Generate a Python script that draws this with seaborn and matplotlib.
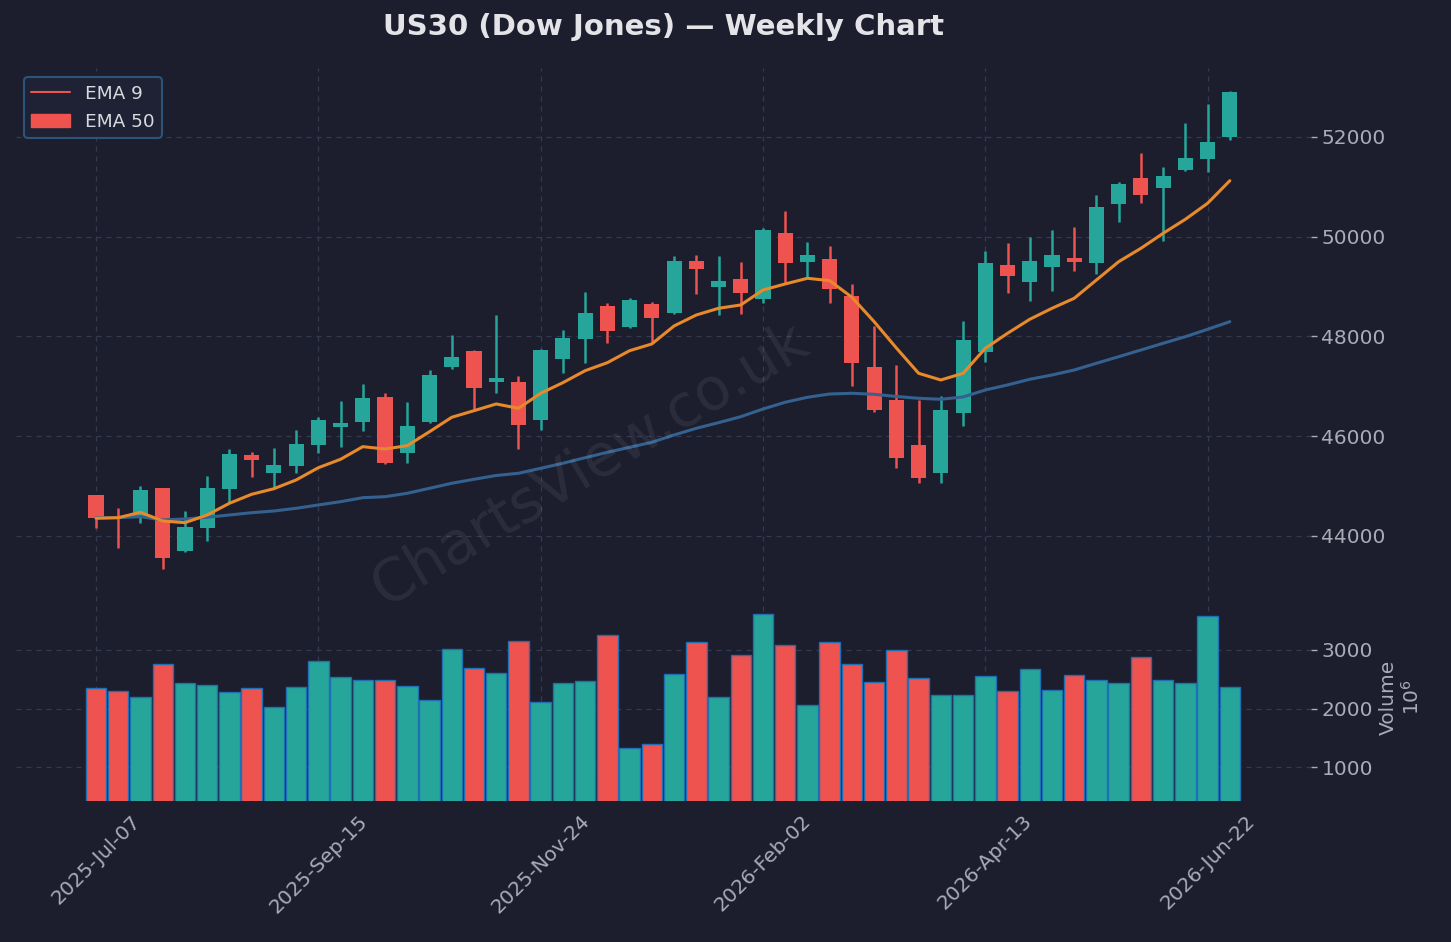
import matplotlib
matplotlib.use("Agg")
import matplotlib.pyplot as plt
from matplotlib.lines import Line2D
from matplotlib.patches import Patch
import numpy as np
import pandas as pd
import seaborn as sns

# ---------------- data ----------------
opens = [44822, 44380, 44400, 44962, 43699, 44160, 44942, 45624, 45263, 45404,
         45825, 46186, 46286, 46787, 45664, 46286, 47389, 47709, 47088, 47088,
         46326, 47549, 47950, 48612, 48190, 48652, 48471, 49514, 48993, 49153,
         48752, 50075, 49494, 49554, 48812, 47389, 46727, 45825, 45263, 46466,
         47689, 49434, 49093, 49394, 49574, 49474, 50657, 51178, 50977, 51338,
         51559, 52000]
closes = [44361, 44340, 44920, 43559, 44180, 44963, 45644, 45524, 45424, 45844,
          46326, 46266, 46767, 45464, 46205, 47228, 47589, 46967, 47168, 46226,
          47729, 47970, 48471, 48110, 48732, 48371, 49514, 49353, 49113, 48872,
          50135, 49474, 49634, 48953, 47469, 46526, 45564, 45163, 46526, 47930,
          49474, 49213, 49514, 49634, 49494, 50597, 51058, 50837, 51218, 51579,
          51900, 52902]
highs = [44822, 44561, 45003, 44962, 44501, 45203, 45744, 45684, 45764, 46125,
         46386, 46707, 47048, 46867, 46687, 47328, 48030, 47729, 48431, 47208,
         47749, 48130, 48892, 48672, 48772, 48692, 49614, 49634, 49614, 49494,
         50175, 50516, 49895, 49815, 49053, 48211, 47429, 46727, 46807, 48311,
         49714, 49875, 49995, 50135, 50196, 50837, 51098, 51679, 51399, 52281,
         52662, 52920]
lows = [44161, 43760, 44261, 43338, 43680, 43900, 44662, 45183, 44983, 45263,
        45664, 45785, 46105, 45444, 45464, 46266, 47349, 46546, 46867, 45744,
        46125, 47268, 47469, 47870, 48170, 47890, 48450, 48852, 48431, 48451,
        48672, 49073, 49173, 48672, 47008, 46486, 45363, 45063, 45063, 46206,
        47489, 48872, 48712, 48912, 49313, 49253, 50296, 50677, 49915, 51318,
        51298, 51940]
volumes = [2351, 2305, 2203, 2758, 2436, 2407, 2288, 2351, 2034, 2373,
           2814, 2542, 2486, 2486, 2390, 2153, 3011, 2689, 2605, 3158,
           2119, 2435, 2475, 3254, 1334, 1402, 2593, 3130, 2198, 2910,
           3610, 3079, 2068, 3130, 2758, 2452, 2989, 2520, 2226, 2226,
           2559, 2294, 2678, 2322, 2571, 2492, 2441, 2881, 2492, 2441,
           3576, 2373]  # millions
ema9 = [44355, 44367, 44475, 44301, 44267, 44421, 44656, 44836, 44948, 45123,
        45369, 45538, 45791, 45744, 45811, 46091, 46380, 46512, 46647, 46560,
        46861, 47074, 47314, 47475, 47715, 47850, 48211, 48431, 48565, 48632,
        48932, 49053, 49167, 49119, 48786, 48297, 47769, 47262, 47128, 47262,
        47763, 48064, 48345, 48565, 48766, 49133, 49500, 49768, 50069, 50350,
        50671, 51124]
ema50 = [44367, 44367, 44387, 44321, 44341, 44375, 44421, 44467, 44501, 44555,
         44622, 44688, 44768, 44788, 44856, 44956, 45057, 45137, 45213, 45257,
         45357, 45458, 45570, 45678, 45778, 45879, 46025, 46159, 46272, 46392,
         46546, 46681, 46781, 46847, 46861, 46841, 46797, 46761, 46741, 46787,
         46927, 47028, 47142, 47228, 47328, 47463, 47595, 47729, 47864, 47996,
         48144, 48297]
tick_positions = [0, 10, 20, 30, 40, 50]
tick_labels = ["2025-Jul-07", "2025-Sep-15", "2025-Nov-24",
               "2026-Feb-02", "2026-Apr-13", "2026-Jun-22"]
price_ticks = [44000, 46000, 48000, 50000, 52000]
volume_ticks = [1000, 2000, 3000]

# ---------------- style ----------------
BG = "#1c1e2e"
UP = "#26a69a"
DOWN = "#ef5350"
ORANGE = "#e8892a"
BLUE = "#34618f"
GRID = "#363a4f"
TXT = "#a9acb7"

sns.set_theme(style="dark")
plt.rcParams["font.family"] = ["DejaVu Sans"]

df = pd.DataFrame({"idx": np.arange(len(opens)), "open": opens, "close": closes,
                   "high": highs, "low": lows, "volume": volumes,
                   "ema9": ema9, "ema50": ema50})
df["dir"] = np.where(df["close"] >= df["open"], "up", "down")

fig = plt.figure(figsize=(14.51, 9.42), dpi=100, facecolor=BG)
W, H = 1451, 942
ax = fig.add_axes([16 / W, 1 - 591 / H, (1311 - 16) / W, (591 - 68) / H])
axv = fig.add_axes([16 / W, 1 - 801 / H, (1311 - 16) / W, (801 - 593) / H], sharex=ax)

for a in (ax, axv):
    a.set_facecolor(BG)
    for s in a.spines.values():
        s.set_visible(False)
    a.grid(True, color=GRID, linestyle=(0, (4, 4)), linewidth=0.9)
    a.set_axisbelow(True)
    a.yaxis.tick_right()
    a.tick_params(axis="both", colors=TXT, labelsize=14.5, length=4, width=1,
                  direction="out", labelcolor=TXT)

# candles
colors = [UP if d == "up" else DOWN for d in df["dir"]]
ax.vlines(df["idx"], df["low"], df["high"], colors=colors, linewidth=1.8, zorder=2)
body_bottom = np.minimum(df["open"], df["close"])
body_height = np.abs(df["close"] - df["open"]).clip(lower=25)
ax.bar(df["idx"], body_height, bottom=body_bottom, width=0.68, color=colors,
       linewidth=0, zorder=3)

# EMAs
sns.lineplot(data=df, x="idx", y="ema50", ax=ax, color=BLUE, linewidth=2.2, zorder=4)
sns.lineplot(data=df, x="idx", y="ema9", ax=ax, color=ORANGE, linewidth=2.2, zorder=5)

ax.set_ylim(42897, 53383)
ax.set_xlim(-3.6, 54.65)
ax.set_yticks(price_ticks)
ax.set_ylabel("")
ax.set_xlabel("")
plt.setp(ax.get_xticklabels(), visible=False)
ax.tick_params(axis="x", length=0)

# legend (as shown in the reference)
handles = [Line2D([0], [0], color=DOWN, linewidth=1.5),
           Patch(facecolor=DOWN, edgecolor=DOWN)]
leg = ax.legend(handles, ["EMA 9", "EMA 50"], loc="upper left", fontsize=13.3,
                frameon=True, facecolor="#1f2234", edgecolor="#2c5478",
                labelcolor="#d8dae0", bbox_to_anchor=(-0.001, 1.0),
                borderaxespad=0.5, handlelength=2.1, labelspacing=0.55)
leg.get_frame().set_linewidth(1.5)
leg.get_frame().set_alpha(1)

# volume
sns.barplot(data=df, x="idx", y="volume", hue="dir",
            palette={"up": UP, "down": DOWN}, dodge=False, native_scale=True,
            width=0.92, saturation=1, edgecolor="#1f6fb4", linewidth=1.0,
            errorbar=None, legend=False, ax=axv)
axv.set_ylim(430, 3966)
axv.set_yticks(volume_ticks)
axv.set_xticks(tick_positions)
axv.set_xticklabels(tick_labels, rotation=45)
axv.set_xlim(-3.6, 54.65)
axv.set_xlabel("")
axv.set_ylabel("Volume\n$10^{6}$", color=TXT, fontsize=14.5, labelpad=4)
axv.yaxis.set_label_position("right")

# title
fig.text((16 + 1311) / 2 / W, 1 - 27 / H, "US30 (Dow Jones) — Weekly Chart",
         ha="center", va="center", fontsize=21, fontweight="bold", color="#e4e4e8")

# watermark
fig.text(590 / W, 1 - 465 / H, "ChartsView.co.uk", ha="center", va="center",
         rotation=31, fontsize=42, color="white", alpha=0.07)

fig.savefig("out.png", dpi=100, facecolor=BG)
